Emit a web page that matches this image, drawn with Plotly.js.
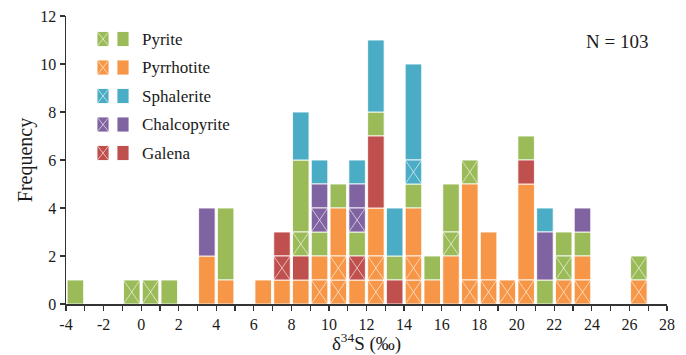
<!DOCTYPE html>
<html>
<head>
<meta charset="utf-8">
<script src="https://cdn.plot.ly/plotly-3.0.1.min.js"></script>
<style>html,body{margin:0;padding:0;background:#fff;}#chart{width:686px;height:355px;}</style>
</head>
<body>
<div id="chart"></div>
<script>
// ---- DATA ----
// left edges of the 1-permil bins that hold samples
const binLeft = [-4, -1, 0, 1, 3, 4, 6, 7, 8, 9, 10, 11, 12, 13, 14, 15, 16, 17, 18, 19, 20, 21, 22, 23, 26];
// cells of each bin, bottom to top (Py pyrite, Po pyrrhotite, Sp sphalerite, Cp chalcopyrite, Gn galena; "x" = crossed cell)
const binCells = [
  "Py",
  "Pyx",
  "Pyx",
  "Py",
  "Po Po Cp Cp",
  "Po Py Py Py",
  "Po",
  "Po Gnx Gn",
  "Po Gn Pyx Py Py Py Sp Sp",
  "Pox Po Py Cpx Cp Sp",
  "Pox Pox Po Po Py",
  "Po Gnx Py Cpx Cp Sp",
  "Pox Pox Po Po Gn Gn Gn Py Sp Sp Sp",
  "Gn Py Sp Sp",
  "Pox Pox Po Po Py Spx Sp Sp Sp Sp",
  "Po Py",
  "Po Po Pyx Py Py",
  "Pox Po Po Po Po Pyx",
  "Pox Po Po",
  "Pox",
  "Pox Po Po Po Po Gn Py",
  "Py Cp Cp Sp",
  "Pox Pyx Py",
  "Pox Po Py Cp",
  "Pox Pyx"
];
const mineralCodes = ["Py", "Po", "Sp", "Cp", "Gn"];
const mineralNames = ["Pyrite", "Pyrrhotite", "Sphalerite", "Chalcopyrite", "Galena"];
const xTickVals = [-4, -2, 0, 2, 4, 6, 8, 10, 12, 14, 16, 18, 20, 22, 24, 26, 28];
const xTickText = ["-4", "-2", "0", "2", "4", "6", "8", "10", "12", "14", "16", "18", "20", "22", "24", "26", "28"];
const yTickVals = [0, 2, 4, 6, 8, 10, 12];
const sampleCount = "N = 103";

// ---- STYLE ----
const colors = {Py: "#9BBB59", Po: "#F79646", Sp: "#4BACC6", Cp: "#8064A2", Gn: "#C0504D"};
const barW = 0.88;
const FONT = "Liberation Serif, Times New Roman, serif";

// ---- build segments ----
const seg = {};
mineralCodes.forEach(c => { seg[c] = {x: [], base: [], y: []}; seg[c + "x"] = {x: [], base: [], y: []}; });
const crossX = [], crossY = [];
binLeft.forEach((left, i) => {
  const cx = left + 0.5;
  const toks = binCells[i].split(/\s+/);
  let level = 0;
  let j = 0;
  while (j < toks.length) {
    const t = toks[j];
    if (t.endsWith("x")) {
      seg[t].x.push(cx); seg[t].base.push(level); seg[t].y.push(1);
      const x0 = cx - barW / 2, x1 = cx + barW / 2;
      crossX.push(x0, x1, null, x0, x1, null);
      crossY.push(level, level + 1, null, level + 1, level, null);
      level += 1; j += 1;
    } else {
      let n = 0;
      while (j < toks.length && toks[j] === t) { n++; j++; }
      seg[t].x.push(cx); seg[t].base.push(level); seg[t].y.push(n);
      level += n;
    }
  }
});

const traces = [];
mineralCodes.forEach((c, k) => {
  [c, c + "x"].forEach(key => {
    traces.push({
      type: "bar", name: mineralNames[k], x: seg[key].x, base: seg[key].base, y: seg[key].y,
      width: barW, showlegend: false, hoverinfo: "skip",
      marker: {color: colors[c], opacity: 1, line: {color: "rgba(255,255,255,0.85)", width: 1}}
    });
  });
});
traces.push({
  type: "scatter", mode: "lines", x: crossX, y: crossY, showlegend: false, hoverinfo: "skip",
  line: {color: "rgba(255,255,255,0.6)", width: 1}, connectgaps: false
});

// ---- legend drawn as decoration ----
const M = {l: 66, r: 19, t: 16, b: 51};
const PW = 686 - M.l - M.r, PH = 355 - M.t - M.b;
const px2x = p => (p - M.l) / PW;
const py2y = p => 1 - (p - M.t) / PH;
const shapes = [], annotations = [];
const rowY = [39, 67.5, 96, 124.5, 153];
mineralCodes.forEach((c, k) => {
  const yc = rowY[k];
  const y0 = py2y(yc + 7.5), y1 = py2y(yc - 7.5);
  [[97, 109], [117, 129]].forEach((xs, s) => {
    shapes.push({type: "rect", xref: "paper", yref: "paper", x0: px2x(xs[0]), x1: px2x(xs[1]), y0: y0, y1: y1,
      fillcolor: colors[c], line: {color: "rgba(255,255,255,0.85)", width: 1}});
    if (s === 0) {
      shapes.push({type: "line", xref: "paper", yref: "paper", x0: px2x(xs[0]), x1: px2x(xs[1]), y0: y0, y1: y1, line: {color: "rgba(255,255,255,0.6)", width: 1}});
      shapes.push({type: "line", xref: "paper", yref: "paper", x0: px2x(xs[0]), x1: px2x(xs[1]), y0: y1, y1: y0, line: {color: "rgba(255,255,255,0.6)", width: 1}});
    }
  });
  annotations.push({xref: "paper", yref: "paper", x: px2x(140), y: py2y(yc), xanchor: "left", yanchor: "middle",
    text: mineralNames[k], showarrow: false, font: {family: FONT, size: 17, color: "#1a1a1a"}});
});
annotations.push({xref: "paper", yref: "paper", x: px2x(650), y: py2y(41), xanchor: "right", yanchor: "middle",
  text: sampleCount, showarrow: false, font: {family: FONT, size: 19, color: "#1a1a1a"}});

const layout = {
  width: 686, height: 355,
  margin: M,
  paper_bgcolor: "#fff", plot_bgcolor: "#fff",
  barmode: "overlay",
  font: {family: FONT, color: "#1a1a1a", size: 16},
  xaxis: {
    range: [-4, 28], tickmode: "array", tickvals: xTickVals, ticktext: xTickText,
    ticks: "outside", ticklen: 5, tickwidth: 1.2, tickcolor: "#333",
    minor: {dtick: 1, tick0: -4, ticks: "outside", ticklen: 5, tickwidth: 1.2, tickcolor: "#333", showgrid: false},
    showline: true, linecolor: "#333", linewidth: 1.5, showgrid: false, zeroline: false,
    tickfont: {family: FONT, size: 16, color: "#1a1a1a"},
    title: {text: "δ<sup>34</sup>S (‰)", font: {family: FONT, size: 19, color: "#1a1a1a"}, standoff: 0}
  },
  yaxis: {
    range: [0, 12], tickmode: "array", tickvals: yTickVals,
    ticks: "outside", ticklen: 5, tickwidth: 1.2, tickcolor: "#333",
    showline: true, linecolor: "#333", linewidth: 1.5, showgrid: false, zeroline: false,
    tickfont: {family: FONT, size: 16, color: "#1a1a1a"},
    title: {text: "Frequency", font: {family: FONT, size: 20, color: "#1a1a1a"}, standoff: 2}
  },
  shapes: shapes, annotations: annotations
};

Plotly.newPlot("chart", traces, layout, {displayModeBar: false, staticPlot: true});
</script>
</body>
</html>
